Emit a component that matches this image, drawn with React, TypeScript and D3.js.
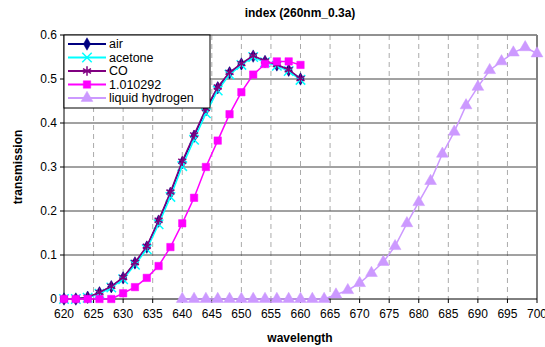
import React from "react";
import * as d3 from "d3";

const W = 545;
const H = 347;
const MARGIN = { top: 35, right: 8, bottom: 48, left: 64 };

const xTicks = [620, 625, 630, 635, 640, 645, 650, 655, 660, 665, 670, 675, 680, 685, 690, 695, 700];
const yTicks = [0, 0.1, 0.2, 0.3, 0.4, 0.5, 0.6];

// wavelengths 620..660 step 2
const wlShort = [620, 622, 624, 626, 628, 630, 632, 634, 636, 638, 640, 642, 644, 646, 648, 650, 652, 654, 656, 658, 660];
const airValues = [0, 0, 0.004, 0.014, 0.028, 0.048, 0.082, 0.118, 0.177, 0.24, 0.31, 0.37, 0.43, 0.48, 0.514, 0.534, 0.552, 0.54, 0.532, 0.52, 0.5];
const acetoneValues = [0, 0, 0.003, 0.012, 0.026, 0.045, 0.078, 0.113, 0.17, 0.232, 0.302, 0.362, 0.422, 0.474, 0.51, 0.532, 0.55, 0.538, 0.53, 0.518, 0.498];
const coValues = [0, 0, 0.004, 0.015, 0.029, 0.049, 0.083, 0.12, 0.179, 0.243, 0.313, 0.373, 0.433, 0.482, 0.515, 0.535, 0.553, 0.541, 0.533, 0.521, 0.501];
const indexValues = [0, 0, 0, 0, 0, 0.013, 0.027, 0.048, 0.075, 0.118, 0.172, 0.23, 0.3, 0.36, 0.42, 0.47, 0.51, 0.534, 0.54, 0.54, 0.532];

// liquid hydrogen 640..700 step 2
const wlLong = [640, 642, 644, 646, 648, 650, 652, 654, 656, 658, 660, 662, 664, 666, 668, 670, 672, 674, 676, 678, 680, 682, 684, 686, 688, 690, 692, 694, 696, 698, 700];
const lh2Values = [0, 0, 0, 0, 0, 0, 0, 0, 0, 0, 0, 0, 0, 0.01, 0.02, 0.036, 0.059, 0.084, 0.12, 0.172, 0.22, 0.268, 0.33, 0.38, 0.44, 0.482, 0.52, 0.54, 0.56, 0.572, 0.558];

type Series = { name: string; color: string; x: number[]; y: number[]; marker: string; fill: boolean };

const series: Series[] = [
  { name: "air", color: "#000080", x: wlShort, y: airValues, marker: "diamond", fill: true },
  { name: "acetone", color: "#00FFFF", x: wlShort, y: acetoneValues, marker: "times", fill: false },
  { name: "CO", color: "#800080", x: wlShort, y: coValues, marker: "asterisk", fill: false },
  { name: "1.010292", color: "#FF00FF", x: wlShort, y: indexValues, marker: "square", fill: true },
  { name: "liquid hydrogen", color: "#CC99FF", x: wlLong, y: lh2Values, marker: "triangle", fill: true },
];

function markerPath(kind: string): string {
  const d3any = d3 as any;
  switch (kind) {
    case "diamond":
      return d3.symbol().type(d3.symbolDiamond).size(45)() || "";
    case "times":
      return d3.symbol().type(d3any.symbolTimes || d3.symbolCross).size(60)() || "";
    case "asterisk":
      return d3.symbol().type(d3any.symbolAsterisk || d3.symbolStar).size(60)() || "";
    case "square":
      return d3.symbol().type(d3.symbolSquare).size(55)() || "";
    default:
      return d3.symbol().type(d3.symbolTriangle).size(60)() || "";
  }
}

export default function App() {
  const bw = W - MARGIN.left - MARGIN.right;
  const bh = H - MARGIN.top - MARGIN.bottom;
  const x = d3.scaleLinear().domain([620, 700]).range([0, bw]);
  const y = d3.scaleLinear().domain([0, 0.6]).range([bh, 0]);
  const font = "Liberation Sans, Arial, sans-serif";

  const line = d3
    .line<[number, number]>()
    .x((d) => x(d[0]))
    .y((d) => y(d[1]));

  return (
    <svg width={W} height={H} style={{ position: "absolute", left: 0, top: 0, background: "#fff" }} fontFamily={font}>
      <text x={300} y={17} textAnchor="middle" fontSize={12} fontWeight="bold">
        index (260nm_0.3a)
      </text>
      <g transform={`translate(${MARGIN.left},${MARGIN.top})`}>
        {xTicks.slice(1, -1).map((t) => (
          <line key={t} x1={x(t)} x2={x(t)} y1={0} y2={bh} stroke="#aaa" strokeDasharray="5,4" />
        ))}
        {yTicks.slice(1).map((t) => (
          <line key={t} x1={0} x2={bw} y1={y(t)} y2={y(t)} stroke="#444" strokeWidth={1} />
        ))}
        <line x1={bw} x2={bw} y1={0} y2={bh} stroke="#808080" strokeWidth={2} />
        <line x1={0} x2={bw} y1={0} y2={0} stroke="#808080" strokeWidth={1} />
        <line x1={0} x2={0} y1={0} y2={bh} stroke="#000" />
        <line x1={0} x2={bw} y1={bh} y2={bh} stroke="#000" />
        {yTicks.map((t) => (
          <g key={t}>
            <line x1={-4} x2={0} y1={y(t)} y2={y(t)} stroke="#000" />
            <text x={-7} y={y(t)} dy="0.35em" textAnchor="end" fontSize={12}>
              {d3.format(".1f")(t).replace(/^0\.0$/, "0")}
            </text>
          </g>
        ))}
        {xTicks.map((t) => (
          <g key={t}>
            <line x1={x(t)} x2={x(t)} y1={bh} y2={bh + 4} stroke="#000" />
            <text x={x(t)} y={bh + 19} textAnchor="middle" fontSize={12}>
              {t}
            </text>
          </g>
        ))}
        {series.map((s) => {
          const pts = s.x.map((v, i) => [v, s.y[i]] as [number, number]);
          const p = markerPath(s.marker);
          return (
            <g key={s.name}>
              <path d={line(pts) || ""} fill="none" stroke={s.color} strokeWidth={1.5} />
              {pts.map((d, i) => (
                <path
                  key={i}
                  d={p}
                  transform={`translate(${x(d[0])},${y(d[1])})`}
                  fill={s.fill ? s.color : "none"}
                  stroke={s.color}
                  strokeWidth={s.fill ? 0.5 : 1.5}
                />
              ))}
            </g>
          );
        })}
        <g>
          <rect x={0} y={0} width={146} height={73} fill="#fff" stroke="#000" strokeWidth={1} />
          {series.map((s, i) => {
            const ly = 9 + i * 13.5;
            return (
              <g key={s.name}>
                <line x1={4} x2={42} y1={ly} y2={ly} stroke={s.color} strokeWidth={2} />
                <path
                  d={markerPath(s.marker)}
                  transform={`translate(23,${ly})`}
                  fill={s.fill ? s.color : "none"}
                  stroke={s.color}
                  strokeWidth={s.fill ? 0.5 : 1.5}
                />
                <text x={45} y={ly} dy="0.35em" fontSize={12.5}>
                  {s.name}
                </text>
              </g>
            );
          })}
        </g>
      </g>
      <text transform={`translate(22,${MARGIN.top + bh / 2}) rotate(-90)`} textAnchor="middle" fontSize={12} fontWeight="bold">
        transmission
      </text>
      <text x={300} y={342} textAnchor="middle" fontSize={12} fontWeight="bold">
        wavelength
      </text>
    </svg>
  );
}
